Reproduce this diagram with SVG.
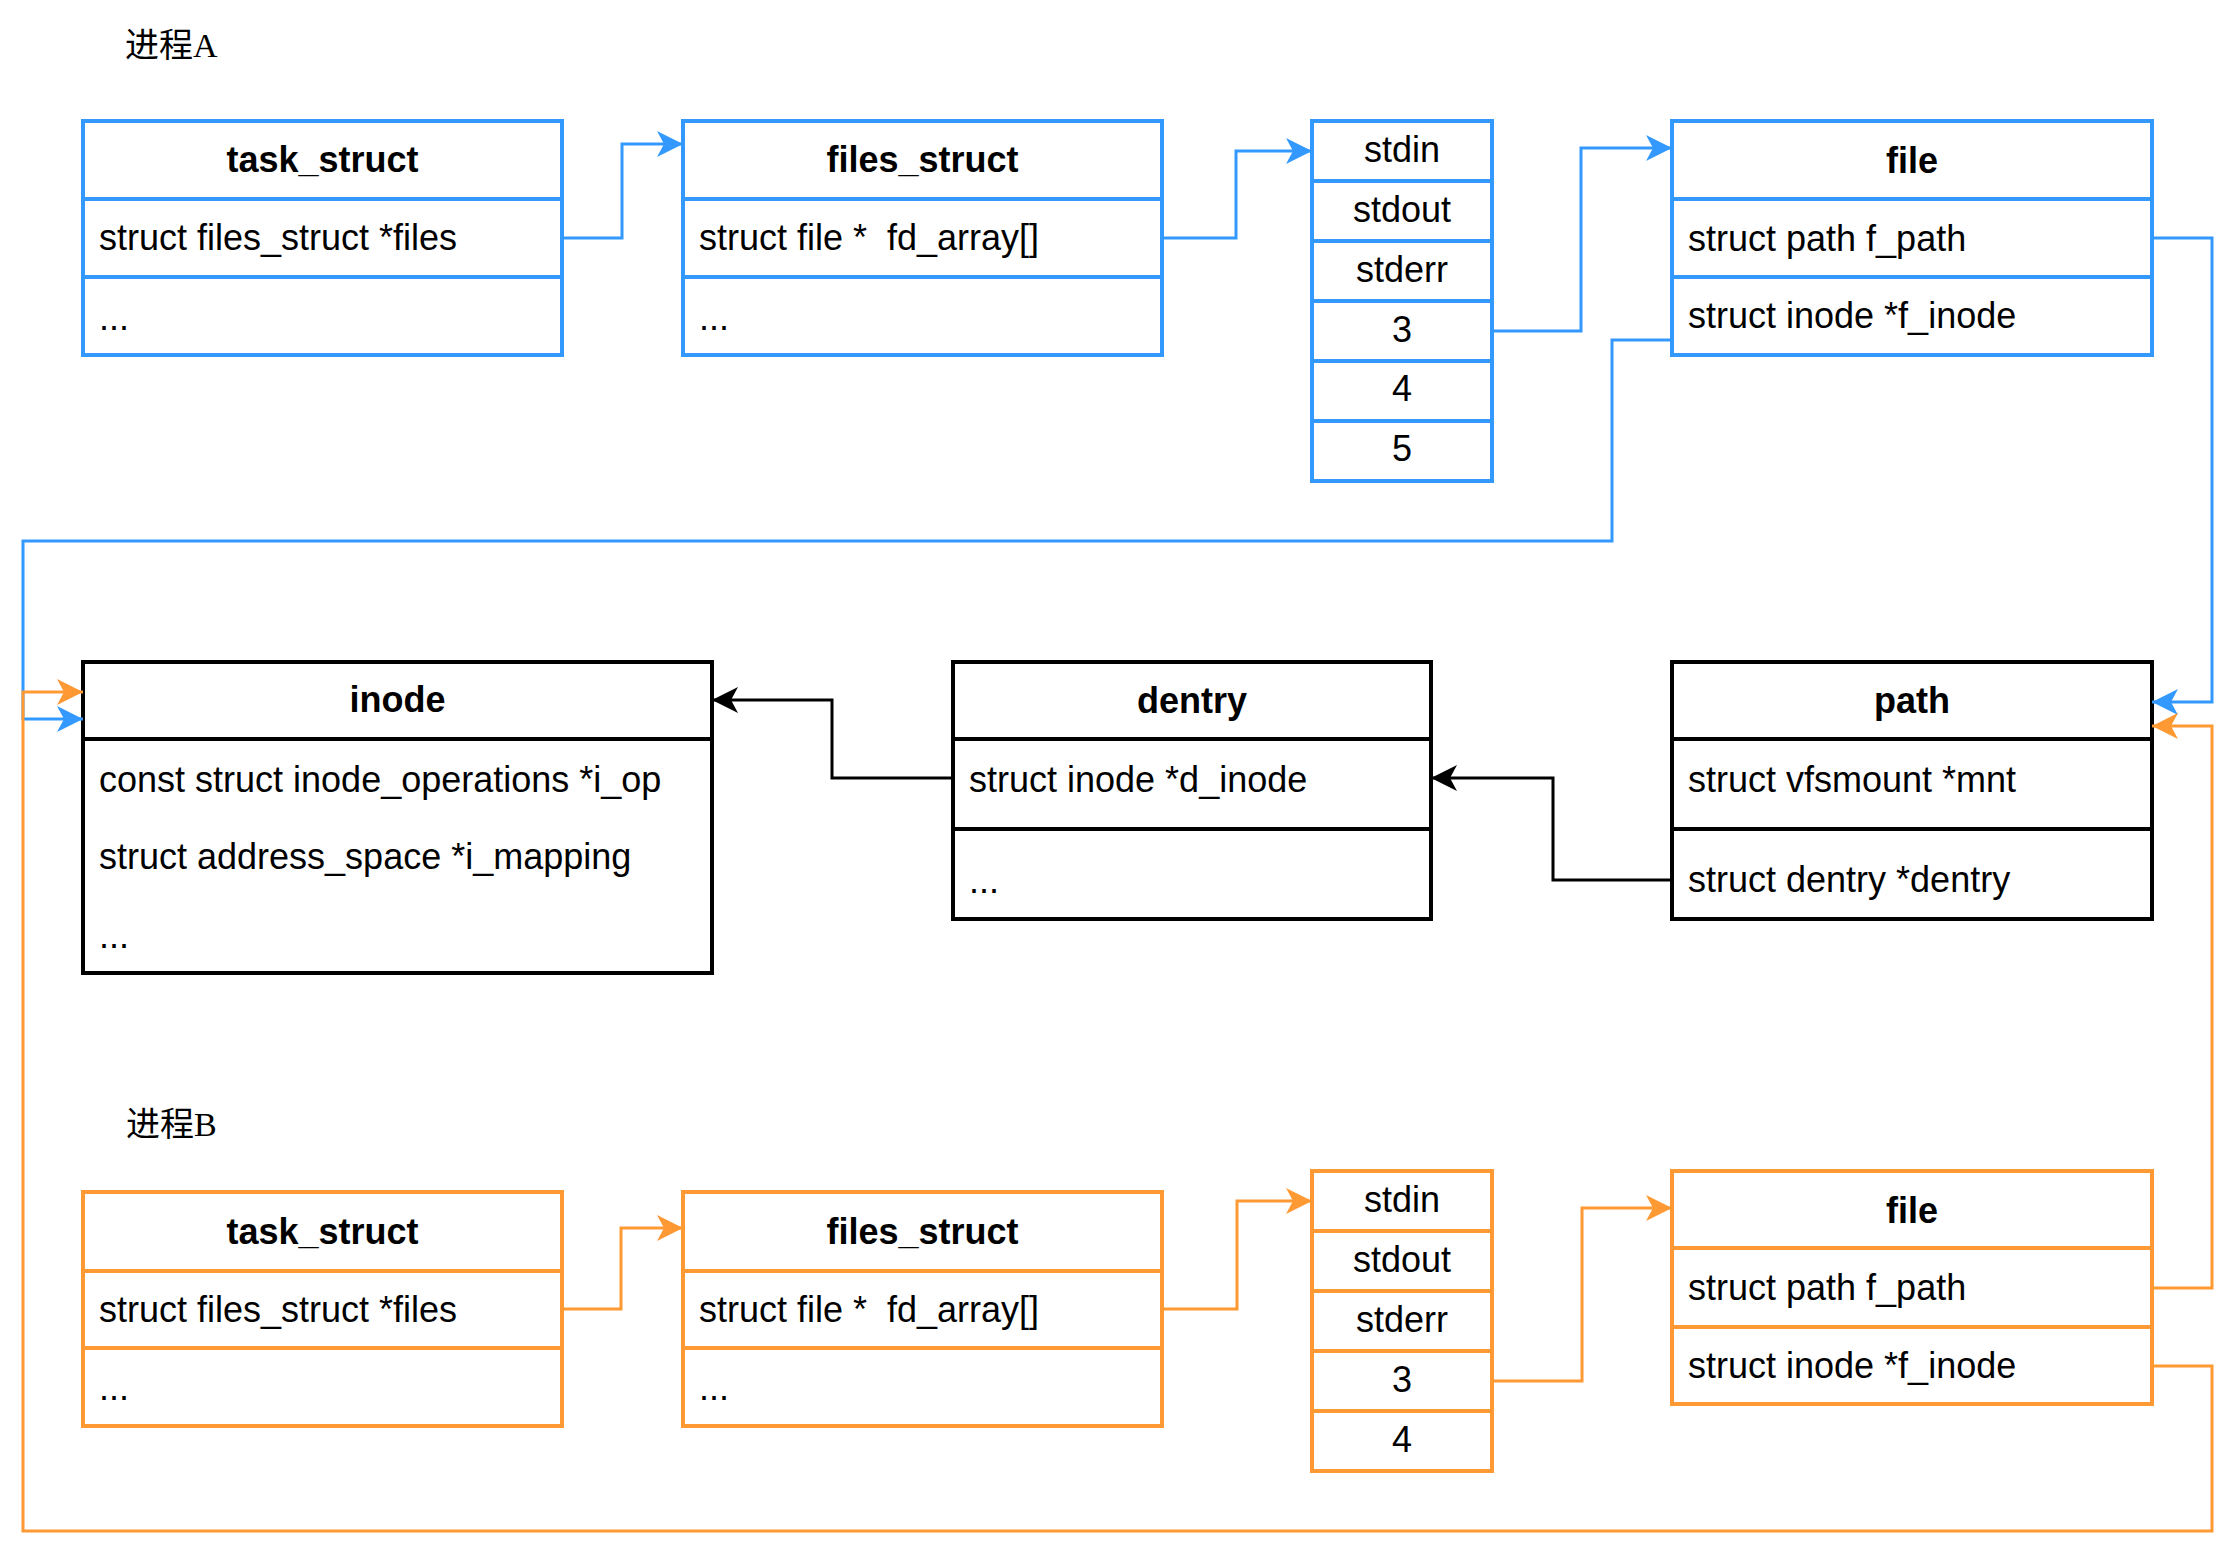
<svg xmlns="http://www.w3.org/2000/svg" width="2238" height="1557" viewBox="0 0 2238 1557">
<defs>
<style>
.bg{fill:#ffffff}
.box{fill:#ffffff;stroke-width:4}
.sep{fill:none;stroke-width:4}
.B{stroke:#3399FF}
.O{stroke:#FF9933}
.K{stroke:#000000}
.t{font-family:"Liberation Sans",Arial,Helvetica,sans-serif;font-size:36px;fill:#000000;white-space:pre}
.h{font-weight:bold;text-anchor:middle}
.c{text-anchor:middle}
.lbl{font-family:"Liberation Serif","Noto Sans CJK SC",serif;font-size:34px;fill:#000000}
.cn{fill:none;stroke-width:3}
</style>
<marker id="ab" markerUnits="userSpaceOnUse" markerWidth="26" markerHeight="26" viewBox="0 0 26 26" refX="26" refY="13" orient="auto"><path d="M0,0 L26,13 L0,26 L7,13 Z" fill="#3399FF"/></marker>
<marker id="ao" markerUnits="userSpaceOnUse" markerWidth="26" markerHeight="26" viewBox="0 0 26 26" refX="26" refY="13" orient="auto"><path d="M0,0 L26,13 L0,26 L7,13 Z" fill="#FF9933"/></marker>
<marker id="ak" markerUnits="userSpaceOnUse" markerWidth="26" markerHeight="26" viewBox="0 0 26 26" refX="26" refY="13" orient="auto"><path d="M0,0 L26,13 L0,26 L7,13 Z" fill="#000000"/></marker>
</defs>
<rect class="bg" x="0" y="0" width="2238" height="1557"/>

<g id="labelA"><text class="lbl" x="125" y="57">进程A</text></g>
<g id="labelB"><text class="lbl" x="126" y="1136">进程B</text></g>

<g id="taskA">
<rect class="box B" x="83" y="121" width="479" height="234"/>
<path class="sep B" d="M83,199 H562 M83,277 H562"/>
<text class="t h" x="322.5" y="172">task_struct</text>
<text class="t" x="99" y="250">struct files_struct *files</text>
<text class="t" x="99" y="330">...</text>
</g>

<g id="filesA">
<rect class="box B" x="683" y="121" width="479" height="234"/>
<path class="sep B" d="M683,199 H1162 M683,277 H1162"/>
<text class="t h" x="922.5" y="172">files_struct</text>
<text class="t" x="699" y="250">struct file *  fd_array[]</text>
<text class="t" x="699" y="330">...</text>
</g>

<g id="fdA">
<rect class="box B" x="1312" y="121" width="180" height="360"/>
<path class="sep B" d="M1312,181 H1492 M1312,241 H1492 M1312,301 H1492 M1312,361 H1492 M1312,421 H1492"/>
<text class="t c" x="1402" y="162">stdin</text>
<text class="t c" x="1402" y="222">stdout</text>
<text class="t c" x="1402" y="282">stderr</text>
<text class="t c" x="1402" y="342">3</text>
<text class="t c" x="1402" y="401">4</text>
<text class="t c" x="1402" y="461">5</text>
</g>

<g id="fileA">
<rect class="box B" x="1672" y="121" width="480" height="234"/>
<path class="sep B" d="M1672,199 H2152 M1672,277 H2152"/>
<text class="t h" x="1912" y="173">file</text>
<text class="t" x="1688" y="251">struct path f_path</text>
<text class="t" x="1688" y="328">struct inode *f_inode</text>
</g>

<g id="inode">
<rect class="box K" x="83" y="662" width="629" height="311"/>
<path class="sep K" d="M83,739 H712"/>
<text class="t h" x="397.5" y="712">inode</text>
<text class="t" x="99" y="792">const struct inode_operations *i_op</text>
<text class="t" x="99" y="869">struct address_space *i_mapping</text>
<text class="t" x="99" y="948">...</text>
</g>

<g id="dentry">
<rect class="box K" x="953" y="662" width="478" height="257"/>
<path class="sep K" d="M953,739 H1431 M953,829 H1431"/>
<text class="t h" x="1192" y="713">dentry</text>
<text class="t" x="969" y="792">struct inode *d_inode</text>
<text class="t" x="969" y="893">...</text>
</g>

<g id="path">
<rect class="box K" x="1672" y="662" width="480" height="257"/>
<path class="sep K" d="M1672,739 H2152 M1672,829 H2152"/>
<text class="t h" x="1912" y="713">path</text>
<text class="t" x="1688" y="792">struct vfsmount *mnt</text>
<text class="t" x="1688" y="892">struct dentry *dentry</text>
</g>

<g id="taskB">
<rect class="box O" x="83" y="1192" width="479" height="234"/>
<path class="sep O" d="M83,1271 H562 M83,1348 H562"/>
<text class="t h" x="322.5" y="1244">task_struct</text>
<text class="t" x="99" y="1322">struct files_struct *files</text>
<text class="t" x="99" y="1400">...</text>
</g>

<g id="filesB">
<rect class="box O" x="683" y="1192" width="479" height="234"/>
<path class="sep O" d="M683,1271 H1162 M683,1348 H1162"/>
<text class="t h" x="922.5" y="1244">files_struct</text>
<text class="t" x="699" y="1322">struct file *  fd_array[]</text>
<text class="t" x="699" y="1400">...</text>
</g>

<g id="fdB">
<rect class="box O" x="1312" y="1171" width="180" height="300"/>
<path class="sep O" d="M1312,1231 H1492 M1312,1291 H1492 M1312,1351 H1492 M1312,1411 H1492"/>
<text class="t c" x="1402" y="1212">stdin</text>
<text class="t c" x="1402" y="1272">stdout</text>
<text class="t c" x="1402" y="1332">stderr</text>
<text class="t c" x="1402" y="1392">3</text>
<text class="t c" x="1402" y="1452">4</text>
</g>

<g id="fileB">
<rect class="box O" x="1672" y="1171" width="480" height="233"/>
<path class="sep O" d="M1672,1248 H2152 M1672,1327 H2152"/>
<text class="t h" x="1912" y="1223">file</text>
<text class="t" x="1688" y="1300">struct path f_path</text>
<text class="t" x="1688" y="1378">struct inode *f_inode</text>
</g>

<g id="connectors">
<path class="cn B" marker-end="url(#ab)" d="M562,238 H622 V144 H683"/>
<path class="cn B" marker-end="url(#ab)" d="M1162,238 H1236 V151 H1312"/>
<path class="cn B" marker-end="url(#ab)" d="M1492,331 H1581 V148 H1672"/>
<path class="cn B" marker-end="url(#ab)" d="M2152,238 H2212 V702 H2152"/>
<path class="cn B" marker-end="url(#ab)" d="M1672,340 H1612 V541 H23 V719 H83"/>
<path class="cn O" marker-end="url(#ao)" d="M562,1309 H621 V1228 H683"/>
<path class="cn O" marker-end="url(#ao)" d="M1162,1309 H1237 V1201 H1312"/>
<path class="cn O" marker-end="url(#ao)" d="M1492,1381 H1582 V1208 H1672"/>
<path class="cn O" marker-end="url(#ao)" d="M2152,1288 H2212 V726 H2152"/>
<path class="cn O" marker-end="url(#ao)" d="M2152,1366 H2212 V1531 H23 V692 H83"/>
<path class="cn K" marker-end="url(#ak)" d="M1672,880 H1553 V778 H1431"/>
<path class="cn K" marker-end="url(#ak)" d="M953,778 H832 V700 H712"/>
</g>
</svg>
